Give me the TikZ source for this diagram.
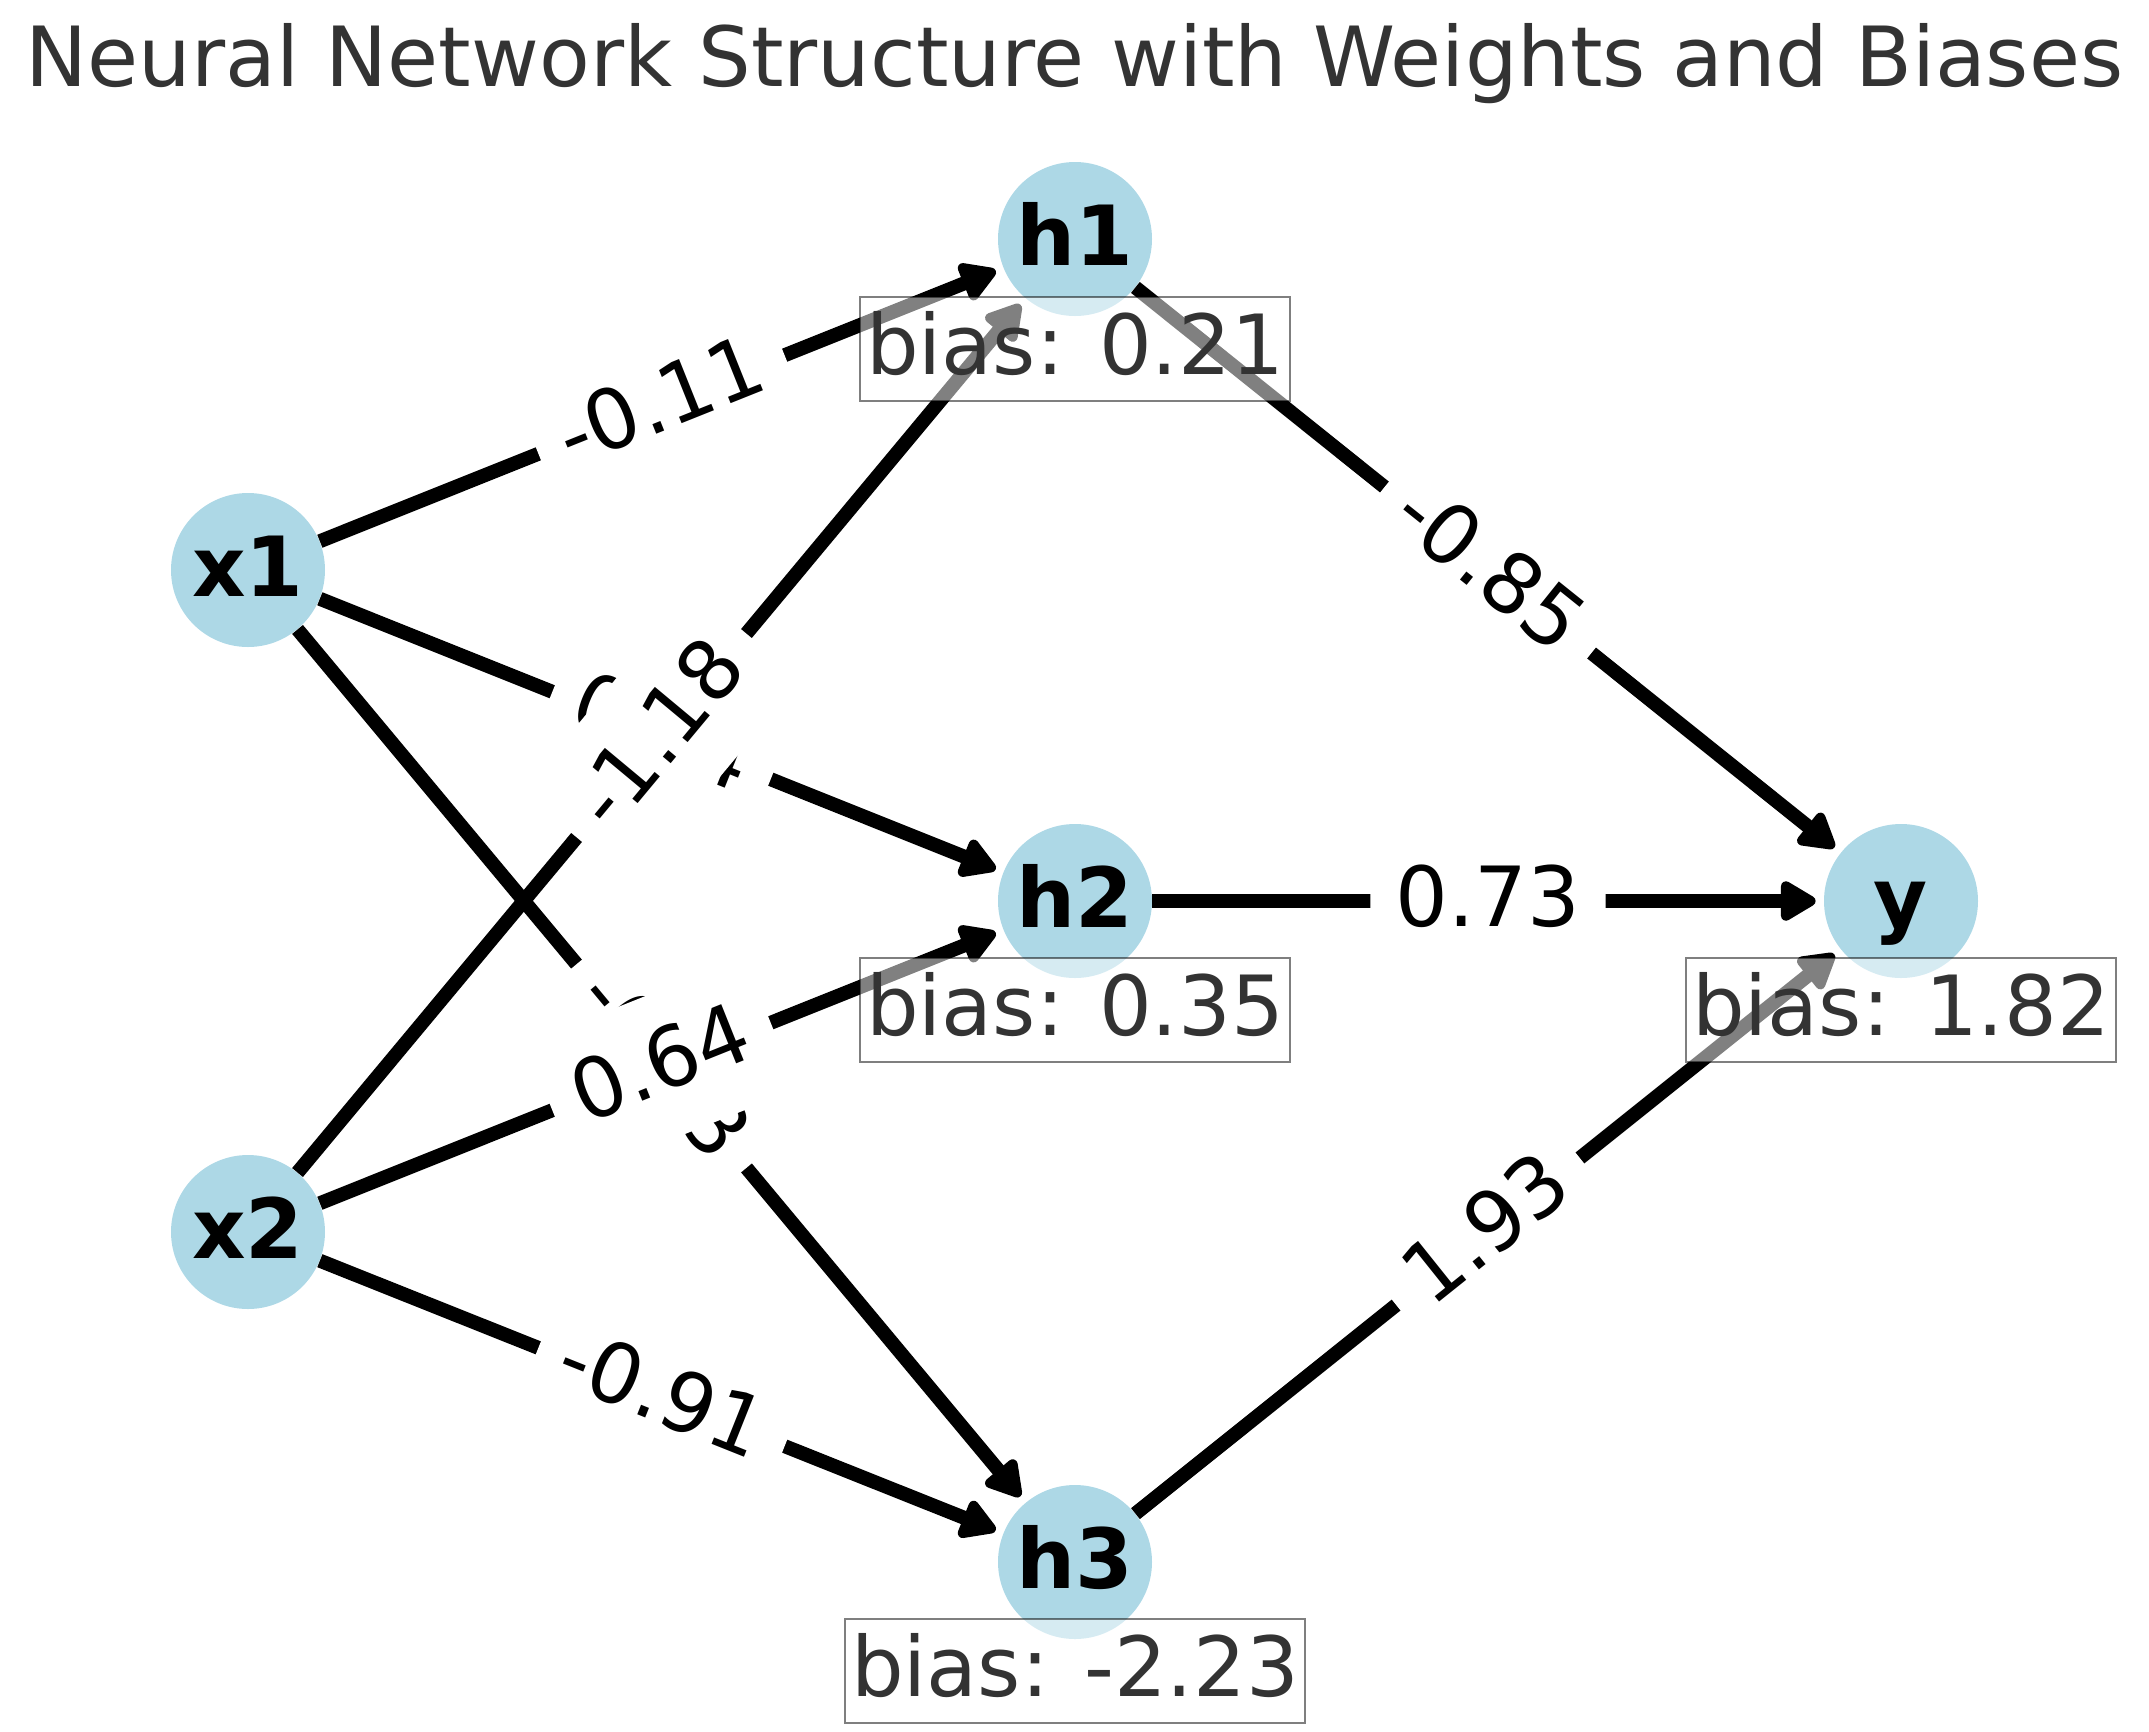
\documentclass[tikz,border=0pt]{standalone}
\usepackage{fontspec}
\setmainfont{DejaVu Sans}
\usetikzlibrary{arrows.meta}
\definecolor{nodeblue}{HTML}{ADD8E6}
\definecolor{textgray}{HTML}{333333}
\newcommand{\figfont}{\fontsize{41.5}{50}\selectfont}

\begin{document}
\begin{tikzpicture}[x=0.5pt,y=-0.5pt,
  neuron/.style={circle,fill=nodeblue,minimum size=77pt,inner sep=0pt,font=\figfont\bfseries,text height=32pt,text depth=6pt},
  wire/.style={line width=7pt,-{Triangle[length=20pt,width=22pt,round]},shorten >=4pt},
  weight/.style={midway,sloped,fill=white,rounded corners=12pt,inner xsep=12.6pt,inner ysep=10.5pt,font=\figfont,text height=37.8pt,text depth=12.6pt},
  biasbox/.style={draw=black,draw opacity=0.5,fill=white,fill opacity=0.5,text opacity=1,text=textgray,line width=1pt,inner xsep=3pt,inner ysep=0.8pt,font=\figfont,text height=37.8pt,text depth=12.6pt}]
\useasboundingbox (0,0) rectangle (2149,1731);

\node[anchor=base,text=textgray,font=\figfont] (title) at (1074.5,86) {Neural Network Structure with Weights and Biases};

% layers
\node[neuron] (x1) at (248,570) {x1};
\node[neuron] (x2) at (248,1232) {x2};
\node[neuron] (h1) at (1075,239) {h1};
\node[neuron] (h2) at (1075,901) {h2};
\node[neuron] (h3) at (1075,1562) {h3};
\node[neuron] (y) at (1901,901) {y};

% connections
\draw[wire] (x1) -- (h1);
\draw[wire] (x1) -- (h2);
\draw[wire] (x1) -- (h3);
\draw[wire] (x2) -- (h1);
\draw[wire] (x2) -- (h2);
\draw[wire] (x2) -- (h3);
\draw[wire] (h1) -- (y);
\draw[wire] (h2) -- (y);
\draw[wire] (h3) -- (y);

% weights, later ones cover earlier ones
\path (x1) -- node[weight] {-0.11} (h1);
\path (x1) -- node[weight] {0.44} (h2);
\path (x1) -- node[weight] {-0.53} (h3);
\path (x2) -- node[weight] {-1.18} (h1);
\path (x2) -- node[weight] {0.64} (h2);
\path (x2) -- node[weight] {-0.91} (h3);
\path (h1) -- node[weight] {-0.85} (y);
\path (h2) -- node[weight] {0.73} (y);
\path (h3) -- node[weight] {1.93} (y);

% biases
\node[biasbox] (b1) at (1075,349) {bias: 0.21};
\node[biasbox] (b2) at (1075,1010) {bias: 0.35};
\node[biasbox] (b3) at (1075,1671) {bias: -2.23};
\node[biasbox] (by) at (1901,1010) {bias: 1.82};
\end{tikzpicture}
\end{document}
